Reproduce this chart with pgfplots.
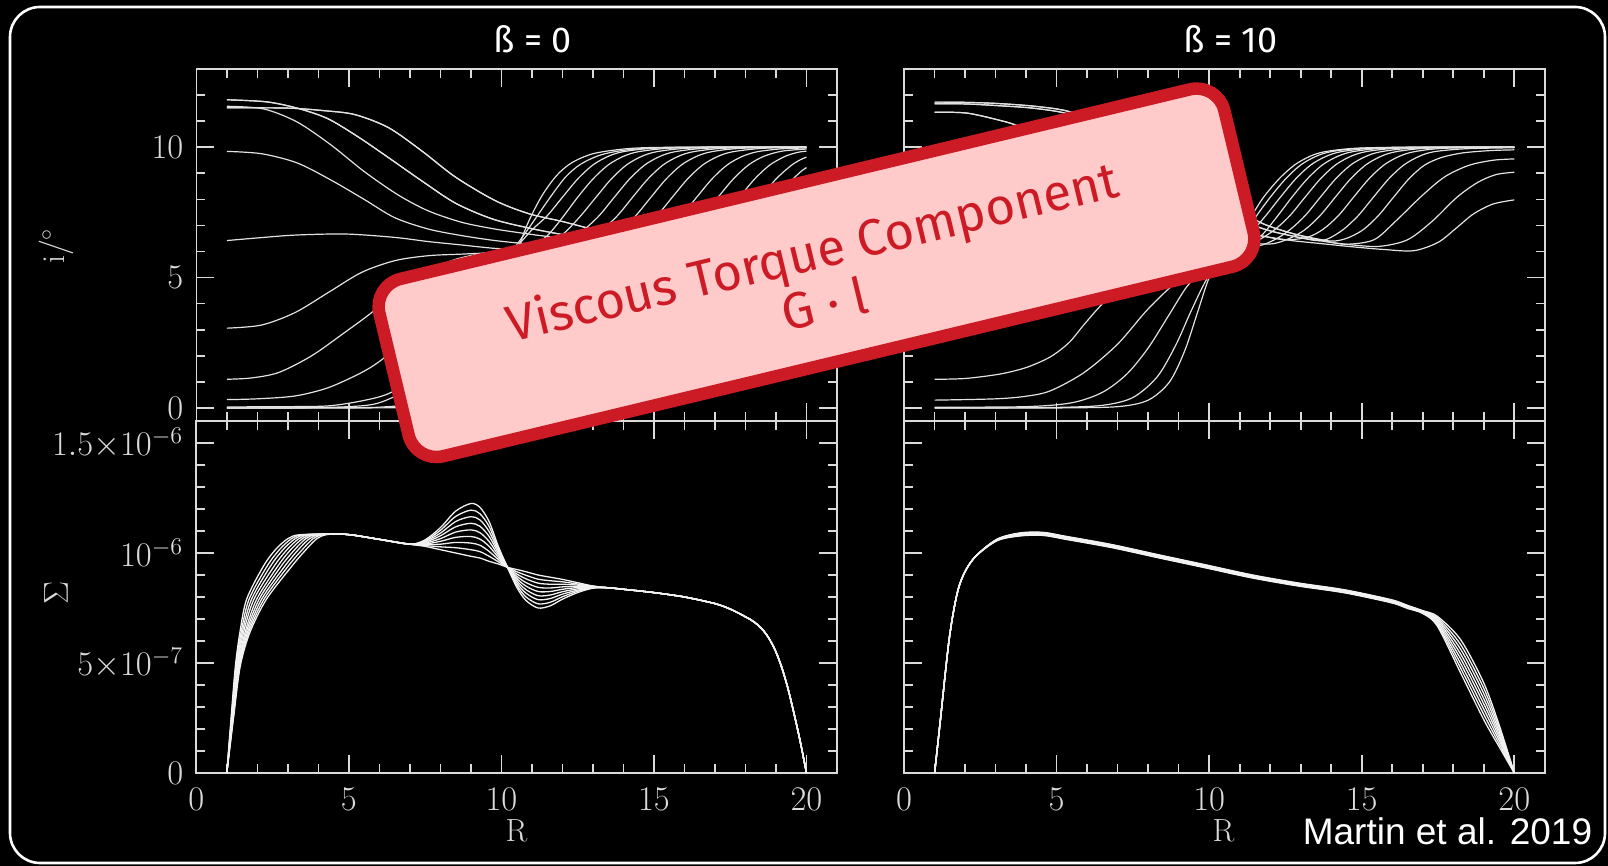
\documentclass[border=0pt]{standalone}
\usepackage{pgfplots}
\pgfplotsset{compat=1.18}
\usepackage{fontspec}
\newfontfamily\fira{Fira Sans}
\newfontfamily\libsans{Liberation Sans}
\definecolor{axcol}{HTML}{DADADA}
\definecolor{crvcol}{HTML}{E2E2E2}
\definecolor{crvb}{HTML}{F2F2F2}
\definecolor{boxred}{HTML}{CC1B24}
\definecolor{boxpink}{HTML}{FFCACA}
\pgfplotsset{
  panel/.style={
    scale only axis, width=320.35pt, height=176pt,
    xmin=0, xmax=21,
    axis line style={draw=axcol, line width=0.8pt},
    tick style={draw=axcol, line width=0.8pt},
    major tick length=9pt, minor tick length=4.5pt,
    tick align=inside, tick pos=both,
    xtick={0,5,10,15,20},
    minor xtick={1,2,3,4,6,7,8,9,11,12,13,14,16,17,18,19},
    ticklabel style={font=\fontsize{16.5}{19}\selectfont, text=axcol},
    xticklabel style={yshift=-4pt},
    yticklabel style={xshift=-3pt},
  },
  toppanel/.style={panel, ymin=-0.5, ymax=13, ytick={0,5,10},
    minor ytick={1,2,3,4,6,7,8,9,11,12}, xticklabels={}},
  botpanel/.style={panel, ymin=0, ymax=1.6, ytick={0,0.5,1,1.5},
    minor ytick={0.1,0.2,0.3,0.4,0.6,0.7,0.8,0.9,1.1,1.2,1.3,1.4}},
  ct/.style={draw=crvcol, line width=0.6pt, smooth, mark=none},
  cb/.style={draw=crvb, line width=0.65pt, smooth, mark=none},
}
\begin{document}
\begin{tikzpicture}
\useasboundingbox (0,0) rectangle (804pt,433pt);
\fill[black] (0,0) rectangle (804pt,433pt);
\draw[white, line width=1.3pt, rounded corners=15pt] (5pt,1.5pt) rectangle (802.5pt,429.5pt);

% ---------------- top left: beta = 0
\begin{axis}[toppanel, at={(98.15pt,222.5pt)}, anchor=south west]
\addplot[ct] coordinates {(1,0) (3,0) (5,0) (7,0.02) (8,0.15) (8.7,0.6) (9.3,1.6) (9.8,3.2) (10.3,5.2) (10.8,6.9) (11.3,8.08) (11.8,8.9) (12.3,9.4) (13,9.75) (14,9.93) (15,9.99) (17,10) (20,10)};
\addplot[ct] coordinates {(1,0) (3,0) (5,0.01) (6,0.03) (7,0.15) (7.8,0.6) (8.5,1.8) (9.2,3.7) (9.8,5.2) (10.4,6.1) (10.9,6.9) (11.6,8.08) (12.1,8.85) (12.6,9.35) (13.3,9.72) (14.3,9.92) (16,10) (20,10)};
\addplot[ct] coordinates {(1,0) (3,0) (5,0.05) (6,0.2) (7,0.8) (7.8,2.0) (8.5,3.5) (9.2,4.8) (9.9,5.7) (10.5,6.2) (11,6.83) (11.5,7.37) (12,8.08) (12.5,8.78) (13,9.32) (13.5,9.65) (14,9.83) (15,9.96) (17,10) (20,10)};
\addplot[ct] coordinates {(1,0.04) (3,0.05) (4.33,0.08) (5.42,0.27) (6.3,0.55) (7.2,1.2) (8,2.4) (8.8,3.9) (9.6,5.1) (10.4,5.8) (11,6.2) (11.5,6.6) (12,7.3) (12.5,8.08) (13,8.78) (13.5,9.32) (14,9.65) (14.5,9.83) (15.5,9.96) (17,10) (20,10)};
\addplot[ct] coordinates {(1,0.32) (2,0.35) (3.24,0.46) (4.33,0.78) (5.42,1.36) (6.1,1.87) (7,2.8) (8,3.9) (9,4.9) (10,5.55) (11,5.95) (11.6,6.3) (12.1,6.75) (12.6,7.37) (13.1,8.08) (13.6,8.78) (14.1,9.32) (14.6,9.65) (15.1,9.83) (16.1,9.96) (18,10) (20,10)};
\addplot[ct] coordinates {(1,1.1) (1.8,1.15) (2.7,1.36) (3.78,2.0) (4.87,2.9) (5.75,3.66) (6.51,4.43) (7.5,5.2) (8.5,5.7) (9.5,5.95) (10.5,6.05) (11.7,6.2) (12.2,6.45) (12.7,6.83) (13.2,7.37) (13.7,8.08) (14.2,8.78) (14.7,9.32) (15.2,9.65) (15.7,9.83) (16.7,9.96) (18.5,10) (20,10)};
\addplot[ct] coordinates {(1,3.06) (2.14,3.18) (3.24,3.66) (4.33,4.43) (5.42,5.2) (6.51,5.65) (7.61,5.84) (8.7,5.9) (10,5.97) (11.3,6.05) (12.3,6.25) (12.8,6.45) (13.3,6.83) (13.8,7.37) (14.3,8.08) (14.8,8.78) (15.3,9.32) (15.8,9.65) (16.3,9.83) (17.3,9.96) (19,10) (20,10)};
\addplot[ct] coordinates {(1,6.42) (2,6.52) (3.24,6.63) (4.9,6.67) (6.51,6.54) (7.61,6.38) (8.7,6.25) (9.79,6.12) (11,6.05) (12.4,6.1) (12.9,6.25) (13.4,6.45) (13.9,6.83) (14.4,7.37) (14.9,8.08) (15.4,8.78) (15.9,9.32) (16.4,9.65) (16.9,9.83) (17.9,9.96) (20,10)};
\addplot[ct] coordinates {(1,9.84) (2.14,9.75) (3.3,9.4) (4.4,8.75) (5.5,8.0) (6.5,7.3) (7.61,6.86) (8.7,6.61) (9.79,6.42) (10.89,6.29) (12,6.2) (13.1,6.15) (13.6,6.25) (14.1,6.45) (14.6,6.83) (15.1,7.37) (15.6,8.08) (16.1,8.78) (16.6,9.32) (17.1,9.65) (17.6,9.83) (18.6,9.96) (20,10)};
\addplot[ct] coordinates {(1,11.57) (2.2,11.47) (3.3,10.97) (4.4,10.1) (5.5,9.07) (6.6,8.18) (7.6,7.56) (8.7,7.12) (9.8,6.86) (10.9,6.67) (12,6.5) (13,6.35) (14,6.25) (14.5,6.3) (14.9,6.45) (15.4,6.83) (15.9,7.37) (16.4,8.08) (16.9,8.78) (17.4,9.32) (17.9,9.65) (18.4,9.83) (19.2,9.94) (20,9.97)};
\addplot[ct] coordinates {(1,11.82) (2.3,11.74) (3.3,11.5) (4.3,11.1) (5.3,10.4) (6.3,9.6) (7.4,8.7) (8.5,7.85) (9.7,7.25) (10.9,6.9) (12,6.65) (13,6.45) (14,6.32) (14.8,6.27) (15.3,6.32) (15.6,6.45) (16.1,6.83) (16.6,7.37) (17.1,8.08) (17.6,8.78) (18.1,9.32) (18.6,9.65) (19.2,9.85) (20,9.93)};
\addplot[ct] coordinates {(1,11.51) (3,11.5) (4.2,11.4) (5.2,11.25) (6.3,10.75) (7.4,9.85) (8.5,8.85) (9.8,7.95) (10.9,7.45) (12,7.15) (13,6.85) (14,6.6) (15,6.42) (15.8,6.38) (16.3,6.5) (16.8,6.85) (17.3,7.4) (17.8,8.08) (18.3,8.78) (18.8,9.32) (19.3,9.65) (19.7,9.8) (20,9.85)};
\addplot[ct] coordinates {(1,11.51) (3,11.5) (4.2,11.4) (5.2,11.25) (6.3,10.75) (7.4,9.85) (8.5,8.85) (9.8,7.95) (10.9,7.45) (12,7.15) (13,6.85) (14,6.6) (15,6.4) (16,6.3) (16.5,6.3) (17,6.45) (17.5,6.83) (18,7.37) (18.5,8.08) (19,8.78) (19.5,9.3) (19.8,9.52) (20,9.62)};
\addplot[ct] coordinates {(1,11.82) (2.3,11.74) (3.3,11.5) (4.3,11.1) (5.3,10.4) (6.3,9.6) (7.4,8.7) (8.5,7.85) (9.7,7.25) (10.9,6.9) (12,6.65) (13,6.45) (14,6.32) (15,6.22) (16,6.17) (16.8,6.17) (17.6,6.45) (18.1,6.83) (18.6,7.37) (19.1,8.08) (19.5,8.7) (19.8,9.05) (20,9.22)};
\end{axis}

% ---------------- top right: beta = 10
\begin{axis}[toppanel, at={(452.05pt,222.5pt)}, anchor=south west, yticklabels={}]
\addplot[ct] coordinates {(1,0) (3,0) (5,0) (7,0.05) (8,0.3) (8.7,1.0) (9.2,2.2) (9.6,3.6) (10,5.0) (10.5,6.1) (11,6.8) (11.4,7.4) (11.78,8.08) (12.3,8.8) (12.8,9.32) (13.3,9.65) (13.8,9.83) (14.8,9.96) (16.5,10) (20,10)};
\addplot[ct] coordinates {(1,0) (3,0) (5,0.02) (6.5,0.1) (7.5,0.4) (8.3,1.2) (8.9,2.4) (9.4,3.7) (9.9,4.9) (10.4,5.7) (10.9,6.3) (11.3,6.9) (11.6,7.45) (12,8.08) (12.5,8.78) (13,9.32) (13.5,9.65) (14,9.83) (15,9.96) (17,10) (20,10)};
\addplot[ct] coordinates {(1,0.03) (4,0.05) (5.5,0.2) (6.5,0.6) (7.3,1.3) (8,2.3) (8.7,3.6) (9.3,4.7) (10,5.5) (10.8,6.1) (11.35,6.7) (11.85,7.37) (12.33,8.08) (12.83,8.78) (13.33,9.32) (13.83,9.65) (14.33,9.83) (15.33,9.96) (17,10) (20,10)};
\addplot[ct] coordinates {(1,0.3) (3,0.35) (4,0.45) (4.8,0.66) (5.9,1.36) (7,2.45) (8,3.8) (9,4.9) (10,5.6) (11,6.0) (11.7,6.6) (12.2,7.3) (12.71,8.08) (13.21,8.78) (13.71,9.32) (14.21,9.65) (14.71,9.83) (15.71,9.96) (17.5,10) (20,10)};
\addplot[ct] coordinates {(1,1.1) (2,1.13) (3.14,1.3) (4,1.55) (4.78,1.95) (5.4,2.5) (5.9,3.2) (6.5,4.0) (7.2,4.8) (8,5.4) (9,5.8) (10,6.0) (11.1,6.15) (11.64,6.45) (12.14,6.83) (12.64,7.37) (13.14,8.08) (13.64,8.78) (14.14,9.32) (14.64,9.65) (15.14,9.83) (16.14,9.96) (18,10) (20,10)};
\addplot[ct] coordinates {(1,3.5) (2,3.6) (3,4.0) (4,4.6) (5,5.2) (6,5.7) (7,6.0) (8.5,6.15) (10,6.2) (11.5,6.2) (12.14,6.45) (12.64,6.83) (13.14,7.37) (13.64,8.08) (14.14,8.78) (14.64,9.32) (15.14,9.65) (15.64,9.83) (16.64,9.96) (18.5,10) (20,10)};
\addplot[ct] coordinates {(1,7.5) (2,7.45) (3,7.3) (4,7.1) (5,6.9) (6,6.7) (7,6.55) (8.5,6.42) (10,6.35) (11.5,6.3) (12.1,6.3) (12.63,6.5) (13.13,6.83) (13.63,7.37) (14.13,8.08) (14.63,8.78) (15.13,9.32) (15.63,9.65) (16.13,9.83) (17.13,9.96) (19,10) (20,10)};
\addplot[ct] coordinates {(1,11.34) (2.05,11.31) (3.14,11.03) (3.7,10.83) (4.5,10.4) (5.5,9.7) (6.5,8.9) (7.5,8.2) (8.5,7.6) (9.5,7.15) (10.5,6.85) (11.7,6.6) (12.5,6.45) (13.23,6.55) (13.73,6.85) (14.23,7.37) (14.73,8.08) (15.23,8.78) (15.73,9.32) (16.23,9.65) (16.73,9.83) (17.73,9.96) (20,10)};
\addplot[ct] coordinates {(1,11.67) (2,11.66) (3,11.6) (4.2,11.5) (5.3,11.3) (6.3,10.85) (7.3,10.1) (8.3,9.2) (9.3,8.3) (10.3,7.6) (11.7,6.9) (12.7,6.6) (13.5,6.42) (13.88,6.48) (14.38,6.83) (14.88,7.37) (15.38,8.08) (15.88,8.78) (16.38,9.32) (16.88,9.65) (17.38,9.83) (18.4,9.94) (20,9.98)};
\addplot[ct] coordinates {(1,11.73) (2,11.72) (3,11.68) (4.2,11.58) (5.3,11.4) (6.5,10.95) (7.5,10.4) (8.5,9.6) (9.5,8.7) (10.5,7.9) (11.7,7.1) (12.7,6.7) (13.7,6.45) (14.1,6.4) (14.54,6.52) (15.04,6.83) (15.54,7.37) (16.04,8.08) (16.54,8.78) (17.04,9.3) (17.6,9.6) (18.3,9.78) (19.2,9.87) (20,9.9)};
\addplot[ct] coordinates {(1,11.73) (2,11.72) (3,11.68) (4.2,11.58) (5.3,11.4) (6.5,10.95) (7.5,10.4) (8.5,9.6) (9.5,8.7) (10.5,7.9) (11.7,7.1) (12.7,6.7) (13.7,6.42) (14.5,6.28) (15.4,6.45) (16.1,7.15) (16.92,8.08) (17.7,8.85) (18.5,9.3) (19.3,9.5) (20,9.55)};
\addplot[ct] coordinates {(1,11.67) (2,11.66) (3,11.6) (4.2,11.5) (5.3,11.3) (6.3,10.85) (7.3,10.1) (8.3,9.2) (9.3,8.3) (10.3,7.6) (11.7,6.9) (12.7,6.6) (13.7,6.4) (14.7,6.25) (15.6,6.2) (16.5,6.45) (17.3,7.15) (18.12,8.08) (18.8,8.65) (19.4,8.95) (20,9.04)};
\addplot[ct] coordinates {(1,11.34) (2.05,11.31) (3.14,11.03) (3.7,10.83) (4.5,10.4) (5.5,9.7) (6.5,8.9) (7.5,8.2) (8.5,7.6) (9.5,7.15) (10.5,6.85) (11.7,6.6) (12.7,6.42) (13.7,6.3) (14.7,6.18) (15.7,6.08) (16.7,6.03) (17.5,6.35) (18.1,6.9) (18.66,7.44) (19.3,7.82) (20,7.98)};
\end{axis}

% ---------------- bottom left: Sigma, beta = 0
\begin{axis}[botpanel, at={(98.15pt,46.5pt)}, anchor=south west,
  yticklabels={{$0$},{$5{\times}10^{-7}$},{$10^{-6}$},{$1.5{\times}10^{-6}$}}]
\addplot[cb] coordinates {(1,0) (1.14,0.25) (1.28,0.485) (1.43,0.64) (1.65,0.79) (2.2,0.94) (2.6,1.016) (3.0,1.065) (3.4,1.083) (4.7,1.086) (5.2,1.08) (6,1.062) (7,1.04) (7.5,1.03) (8,1.015) (8.5,1.0) (9,0.985) (9.3,0.977) (9.6,0.962) (9.9,0.95) (10.2,0.935) (10.5,0.925) (10.8,0.915) (11.2,0.9) (11.6,0.89) (12,0.88) (12.5,0.865) (13,0.85) (13.5,0.842) (14,0.835) (15,0.82) (16,0.80) (17,0.77) (17.5,0.745) (18,0.71) (18.3,0.685) (18.6,0.645) (18.8,0.605) (19,0.55) (19.2,0.475) (19.4,0.38) (19.6,0.265) (19.8,0.14) (20,0)};
\addplot[cb] coordinates {(1,0) (1.15,0.25) (1.30,0.485) (1.47,0.64) (1.73,0.79) (2.32,0.94) (2.73,1.016) (3.12,1.065) (3.51,1.083) (4.7,1.086) (5.2,1.08) (6,1.062) (7,1.04) (7.5,1.034) (8,1.028) (8.5,1.024) (9,1.015) (9.3,1.006) (9.6,0.985) (9.9,0.96) (10.2,0.935) (10.5,0.915) (10.8,0.899) (11.2,0.881) (11.6,0.874) (12,0.869) (12.5,0.859) (13,0.849) (13.5,0.842) (14,0.835) (15,0.82) (16,0.80) (17,0.77) (17.5,0.745) (18,0.71) (18.3,0.685) (18.6,0.645) (18.8,0.605) (19,0.55) (19.2,0.475) (19.4,0.38) (19.6,0.265) (19.8,0.14) (20,0)};
\addplot[cb] coordinates {(1,0) (1.16,0.25) (1.32,0.485) (1.51,0.64) (1.81,0.79) (2.43,0.94) (2.85,1.016) (3.24,1.065) (3.61,1.083) (4.7,1.086) (5.2,1.08) (6,1.062) (7,1.04) (7.5,1.038) (8,1.04) (8.5,1.048) (9,1.045) (9.3,1.035) (9.6,1.007) (9.9,0.97) (10.2,0.935) (10.5,0.905) (10.8,0.883) (11.2,0.863) (11.6,0.858) (12,0.858) (12.5,0.854) (13,0.848) (13.5,0.842) (14,0.835) (15,0.82) (16,0.80) (17,0.77) (17.5,0.745) (18,0.71) (18.3,0.685) (18.6,0.645) (18.8,0.605) (19,0.55) (19.2,0.475) (19.4,0.38) (19.6,0.265) (19.8,0.14) (20,0)};
\addplot[cb] coordinates {(1,0) (1.17,0.25) (1.34,0.485) (1.55,0.64) (1.89,0.79) (2.55,0.94) (2.98,1.016) (3.36,1.065) (3.72,1.083) (4.7,1.086) (5.2,1.08) (6,1.062) (7,1.04) (7.5,1.041) (8,1.053) (8.5,1.071) (9,1.075) (9.3,1.063) (9.6,1.03) (9.9,0.98) (10.2,0.935) (10.5,0.895) (10.8,0.866) (11.2,0.844) (11.6,0.841) (12,0.846) (12.5,0.848) (13,0.846) (13.5,0.842) (14,0.835) (15,0.82) (16,0.80) (17,0.77) (17.5,0.745) (18,0.71) (18.3,0.685) (18.6,0.645) (18.8,0.605) (19,0.55) (19.2,0.475) (19.4,0.38) (19.6,0.265) (19.8,0.14) (20,0)};
\addplot[cb] coordinates {(1,0) (1.18,0.25) (1.36,0.485) (1.60,0.64) (1.98,0.79) (2.67,0.94) (3.10,1.016) (3.48,1.065) (3.83,1.083) (4.7,1.086) (5.2,1.08) (6,1.062) (7,1.04) (7.5,1.045) (8,1.065) (8.5,1.095) (9,1.105) (9.3,1.092) (9.6,1.052) (9.9,0.99) (10.2,0.935) (10.5,0.885) (10.8,0.85) (11.2,0.825) (11.6,0.825) (12,0.835) (12.5,0.843) (13,0.845) (13.5,0.842) (14,0.835) (15,0.82) (16,0.80) (17,0.77) (17.5,0.745) (18,0.71) (18.3,0.685) (18.6,0.645) (18.8,0.605) (19,0.55) (19.2,0.475) (19.4,0.38) (19.6,0.265) (19.8,0.14) (20,0)};
\addplot[cb] coordinates {(1,0) (1.19,0.25) (1.38,0.485) (1.64,0.64) (2.06,0.79) (2.78,0.94) (3.23,1.016) (3.59,1.065) (3.93,1.083) (4.7,1.086) (5.2,1.08) (6,1.062) (7,1.04) (7.5,1.049) (8,1.078) (8.5,1.119) (9,1.135) (9.3,1.121) (9.6,1.075) (9.9,1.0) (10.2,0.935) (10.5,0.875) (10.8,0.834) (11.2,0.806) (11.6,0.809) (12,0.824) (12.5,0.837) (13,0.844) (13.5,0.842) (14,0.835) (15,0.82) (16,0.80) (17,0.77) (17.5,0.745) (18,0.71) (18.3,0.685) (18.6,0.645) (18.8,0.605) (19,0.55) (19.2,0.475) (19.4,0.38) (19.6,0.265) (19.8,0.14) (20,0)};
\addplot[cb] coordinates {(1,0) (1.20,0.25) (1.40,0.485) (1.68,0.64) (2.14,0.79) (2.90,0.94) (3.35,1.016) (3.71,1.065) (4.04,1.083) (4.7,1.086) (5.2,1.08) (6,1.062) (7,1.04) (7.5,1.053) (8,1.09) (8.5,1.143) (9,1.165) (9.3,1.15) (9.6,1.097) (9.9,1.01) (10.2,0.935) (10.5,0.865) (10.8,0.818) (11.2,0.788) (11.6,0.793) (12,0.813) (12.5,0.831) (13,0.843) (13.5,0.842) (14,0.835) (15,0.82) (16,0.80) (17,0.77) (17.5,0.745) (18,0.71) (18.3,0.685) (18.6,0.645) (18.8,0.605) (19,0.55) (19.2,0.475) (19.4,0.38) (19.6,0.265) (19.8,0.14) (20,0)};
\addplot[cb] coordinates {(1,0) (1.21,0.25) (1.42,0.485) (1.72,0.64) (2.22,0.79) (3.01,0.94) (3.48,1.016) (3.83,1.065) (4.14,1.083) (4.7,1.086) (5.2,1.08) (6,1.062) (7,1.04) (7.5,1.056) (8,1.103) (8.5,1.166) (9,1.195) (9.3,1.178) (9.6,1.12) (9.9,1.02) (10.2,0.935) (10.5,0.855) (10.8,0.801) (11.2,0.769) (11.6,0.776) (12,0.801) (12.5,0.826) (13,0.841) (13.5,0.842) (14,0.835) (15,0.82) (16,0.80) (17,0.77) (17.5,0.745) (18,0.71) (18.3,0.685) (18.6,0.645) (18.8,0.605) (19,0.55) (19.2,0.475) (19.4,0.38) (19.6,0.265) (19.8,0.14) (20,0)};
\addplot[cb] coordinates {(1,0) (1.22,0.25) (1.44,0.485) (1.76,0.64) (2.30,0.79) (3.13,0.94) (3.60,1.016) (3.95,1.065) (4.25,1.083) (4.7,1.086) (5.2,1.08) (6,1.062) (7,1.04) (7.5,1.06) (8,1.115) (8.5,1.19) (9,1.225) (9.3,1.207) (9.6,1.142) (9.9,1.03) (10.2,0.935) (10.5,0.845) (10.8,0.785) (11.2,0.75) (11.6,0.76) (12,0.79) (12.5,0.82) (13,0.84) (13.5,0.842) (14,0.835) (15,0.82) (16,0.80) (17,0.77) (17.5,0.745) (18,0.71) (18.3,0.685) (18.6,0.645) (18.8,0.605) (19,0.55) (19.2,0.475) (19.4,0.38) (19.6,0.265) (19.8,0.14) (20,0)};
\end{axis}

% ---------------- bottom right: Sigma, beta = 10
\begin{axis}[botpanel, at={(452.05pt,46.5pt)}, anchor=south west, yticklabels={}]
\addplot[cb] coordinates {(1,0) (1.19,0.242) (1.49,0.621) (1.8,0.848) (2.25,0.97) (3.02,1.061) (3.78,1.091) (4.54,1.094) (5.3,1.076) (6.82,1.038) (8.34,0.992) (9.86,0.947) (11.39,0.901) (12.91,0.864) (14.43,0.833) (15.96,0.788) (16.5,0.762) (17,0.738) (17.48,0.712) (18.24,0.606) (19,0.409) (19.5,0.22) (20,0)};
\addplot[cb] coordinates {(1,0) (1.19,0.242) (1.49,0.621) (1.8,0.848) (2.25,0.97) (3.02,1.060) (3.78,1.089) (4.54,1.092) (5.3,1.074) (6.82,1.036) (8.34,0.990) (9.86,0.945) (11.39,0.899) (12.91,0.862) (14.43,0.831) (15.96,0.786) (16.5,0.760) (17,0.736) (17.48,0.706) (18.24,0.584) (19,0.385) (19.5,0.206) (20,0)};
\addplot[cb] coordinates {(1,0) (1.19,0.242) (1.49,0.621) (1.8,0.848) (2.25,0.97) (3.02,1.059) (3.78,1.087) (4.54,1.090) (5.3,1.072) (6.82,1.034) (8.34,0.988) (9.86,0.943) (11.39,0.897) (12.91,0.860) (14.43,0.829) (15.96,0.784) (16.5,0.758) (17,0.734) (17.48,0.699) (18.24,0.563) (19,0.361) (19.5,0.191) (20,0)};
\addplot[cb] coordinates {(1,0) (1.19,0.242) (1.49,0.621) (1.8,0.848) (2.25,0.97) (3.02,1.058) (3.78,1.085) (4.54,1.088) (5.3,1.070) (6.82,1.032) (8.34,0.986) (9.86,0.941) (11.39,0.895) (12.91,0.858) (14.43,0.827) (15.96,0.782) (16.5,0.756) (17,0.732) (17.48,0.693) (18.24,0.541) (19,0.337) (19.5,0.177) (20,0)};
\addplot[cb] coordinates {(1,0) (1.19,0.242) (1.49,0.621) (1.8,0.848) (2.25,0.97) (3.02,1.057) (3.78,1.083) (4.54,1.086) (5.3,1.068) (6.82,1.030) (8.34,0.984) (9.86,0.939) (11.39,0.893) (12.91,0.856) (14.43,0.825) (15.96,0.780) (16.5,0.754) (17,0.731) (17.48,0.686) (18.24,0.520) (19,0.314) (19.5,0.163) (20,0)};
\addplot[cb] coordinates {(1,0) (1.19,0.242) (1.49,0.621) (1.8,0.848) (2.25,0.97) (3.02,1.056) (3.78,1.081) (4.54,1.084) (5.3,1.066) (6.82,1.028) (8.34,0.982) (9.86,0.937) (11.39,0.891) (12.91,0.854) (14.43,0.823) (15.96,0.778) (16.5,0.752) (17,0.729) (17.48,0.680) (18.24,0.498) (19,0.290) (19.5,0.149) (20,0)};
\addplot[cb] coordinates {(1,0) (1.19,0.242) (1.49,0.621) (1.8,0.848) (2.25,0.97) (3.02,1.055) (3.78,1.079) (4.54,1.082) (5.3,1.064) (6.82,1.026) (8.34,0.980) (9.86,0.935) (11.39,0.889) (12.91,0.852) (14.43,0.821) (15.96,0.776) (16.5,0.750) (17,0.727) (17.48,0.673) (18.24,0.477) (19,0.266) (19.5,0.134) (20,0)};
\addplot[cb] coordinates {(1,0) (1.19,0.242) (1.49,0.621) (1.8,0.848) (2.25,0.97) (3.02,1.054) (3.78,1.077) (4.54,1.080) (5.3,1.062) (6.82,1.024) (8.34,0.978) (9.86,0.933) (11.39,0.887) (12.91,0.850) (14.43,0.819) (15.96,0.774) (16.5,0.748) (17,0.725) (17.48,0.667) (18.24,0.455) (19,0.242) (19.5,0.12) (20,0)};
\end{axis}

% ---------------- labels
\node[rotate=90, text=axcol, font=\fontsize{16}{19}\selectfont] at (28pt,310pt) {$\mathrm{i}/^{\circ}$};
\node[rotate=90, text=axcol, font=\fontsize{16}{19}\selectfont] at (28pt,136.5pt) {$\Sigma$};
\node[text=axcol, font=\fontsize{16}{19}\selectfont] at (258.3pt,17.65pt) {$\mathrm{R}$};
\node[text=axcol, font=\fontsize{16}{19}\selectfont] at (611.7pt,17.65pt) {$\mathrm{R}$};
\node[text=white, font=\fira\fontsize{18}{20}\selectfont] at (266.4pt,413.5pt) {ß = 0};
\node[text=white, font=\fira\fontsize{18}{20}\selectfont] at (615.3pt,413.5pt) {ß = 10};
\node[text=white, font=\libsans\fontsize{18.5}{20}\selectfont] at (723.75pt,17.5pt) {Martin et al. 2019};

% ---------------- annotation box
\node[draw=boxred, fill=boxpink, line width=6.25pt, rounded corners=14.25pt,
      minimum width=434.5pt, minimum height=91.2pt, inner sep=0pt, rotate=13.5]
      at (408.25pt,296.6pt) {};
\node[text=boxred, font=\fira\fontsize{25.5}{27}\selectfont, align=center, rotate=13.5, inner sep=0pt]
      at (409pt,294.75pt) {Viscous Torque Component\\G · l};
\end{tikzpicture}
\end{document}
